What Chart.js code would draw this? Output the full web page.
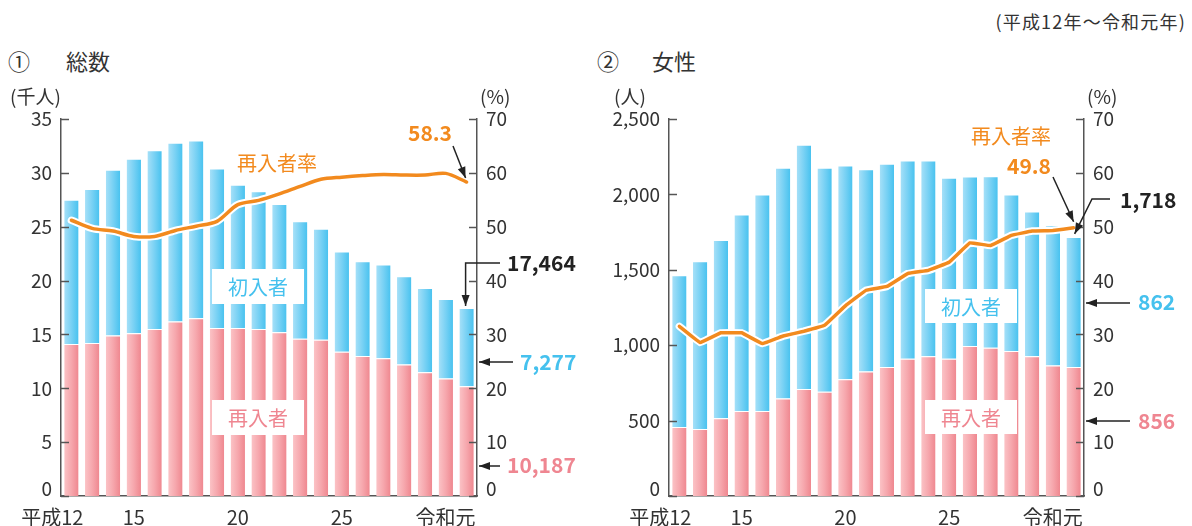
<!DOCTYPE html>
<html>
<head>
<meta charset="utf-8">
<script src="https://cdn.jsdelivr.net/npm/chart.js@4.4.1/dist/chart.umd.min.js"></script>
<style>
  body { margin: 0; background: #fff; width: 1192px; height: 526px; position: relative; overflow: hidden;
         font-family: "Noto Sans CJK JP", "Noto Sans", sans-serif; color: #333; }
  .panel { position: absolute; top: 0; width: 596px; height: 526px; }
  .panel canvas { display: block; }
  .t { position: absolute; white-space: nowrap; line-height: 1; }
</style>
</head>
<body>
<div class="t" style="right:6px;top:12px;font-size:18px;letter-spacing:1.2px">(平成12年～令和元年)</div>
<div class="t" style="left:8px;top:49px;font-size:22px">①</div>
<div class="t" style="left:66px;top:49px;font-size:22px">総数</div>
<div class="t" style="left:597px;top:49px;font-size:22px">②</div>
<div class="t" style="left:652px;top:49px;font-size:22px">女性</div>

<div class="panel" style="left:0"><canvas id="total" width="596" height="526"></canvas></div>
<div class="panel" style="left:596px"><canvas id="female" width="596" height="526"></canvas></div>

<script>
// years 平成12 .. 令和元
var years = ['平成12', '13', '14', '15', '16', '17', '18', '19', '20', '21',
             '22', '23', '24', '25', '26', '27', '28', '29', '30', '令和元'];
var tickIdx = [0, 3, 8, 13, 19];
var tickText = ['平成12', '15', '20', '25', '令和元'];

// ① 総数 (千人)
var totReentry = [14.1, 14.2, 14.9, 15.1, 15.5, 16.2, 16.5, 15.6, 15.6, 15.5,
                  15.2, 14.6, 14.5, 13.4, 13.0, 12.8, 12.2, 11.5, 10.9, 10.187];
var totFirst = [13.4, 14.3, 15.4, 16.2, 16.6, 16.6, 16.5, 14.8, 13.3, 12.8,
                11.9, 10.9, 10.3, 9.3, 8.8, 8.7, 8.2, 7.8, 7.4, 7.277];
var totRate = [51.2, 49.7, 49.2, 48.2, 48.2, 49.3, 50.1, 51.0, 54.1, 54.9,
               56.1, 57.5, 58.8, 59.2, 59.5, 59.7, 59.6, 59.6, 59.9, 58.3];

// ② 女性 (人)
var femReentry = [457, 444, 515, 563, 563, 647, 709, 691, 775, 826,
                  855, 910, 927, 910, 994, 983, 961, 927, 866, 856];
var femFirst = [1007, 1113, 1183, 1303, 1437, 1530, 1621, 1486, 1416, 1340,
                1349, 1314, 1297, 1201, 1124, 1137, 1039, 959, 929, 862];
var femRate = [31.5, 28.5, 30.3, 30.3, 28.3, 29.7, 30.6, 31.7, 35.3, 38.2,
               38.9, 41.3, 41.9, 43.4, 47.0, 46.5, 48.4, 49.2, 49.3, 49.8];

var ORANGE = '#f28a1e', BLUE_TXT = '#45c1ee', PINK_TXT = '#ef8691', AXIS = '#555', DARK = '#222';
var FONT = '"Noto Sans CJK JP", "Noto Sans", sans-serif';
var BAR_PCT = 0.69;

Chart.defaults.font.family = FONT;
Chart.defaults.color = '#333';

var barFill = function (stops) {
    return function (c) {
        var xs = c.chart.scales.x;
        if (!xs || c.dataIndex === undefined) return stops[1];
        var x = xs.getPixelForValue(c.dataIndex);
        var half = xs.width / years.length * BAR_PCT / 2;
        if (!isFinite(x) || !isFinite(half) || half <= 0) return stops[1];
        var g = c.chart.ctx.createLinearGradient(x - half, 0, x + half, 0);
        g.addColorStop(0, stops[0]);
        g.addColorStop(0.5, stops[1]);
        g.addColorStop(1, stops[2]);
        return g;
    };
};

// zero is drawn a little higher by the decor plugin
var noZero = function (v) {
    return v === 0 ? '' : v.toLocaleString('en-US');
};

var arrow = function (ctx, pts) {
    ctx.save();
    ctx.strokeStyle = DARK;
    ctx.fillStyle = DARK;
    ctx.lineWidth = 1.5;
    ctx.beginPath();
    ctx.moveTo(pts[0][0], pts[0][1]);
    for (var i = 1; i < pts.length; i++) ctx.lineTo(pts[i][0], pts[i][1]);
    ctx.stroke();
    var a = pts[pts.length - 2], b = pts[pts.length - 1];
    var ang = Math.atan2(b[1] - a[1], b[0] - a[0]);
    ctx.translate(b[0], b[1]);
    ctx.rotate(ang);
    ctx.beginPath();
    ctx.moveTo(0, 0);
    ctx.lineTo(-11, -4);
    ctx.lineTo(-11, 4);
    ctx.closePath();
    ctx.fill();
    ctx.restore();
};

var decor = {
    id: 'decor',
    afterDraw: function (chart) {
        var p = chart.config.options.plugins.decor;
        var ctx = chart.ctx, area = chart.chartArea;
        var xs = chart.scales.x, ys = chart.scales.y, y1 = chart.scales.y1;
        ctx.save();

        // inward tick marks
        ctx.strokeStyle = AXIS;
        ctx.lineWidth = 1.5;
        ys.ticks.forEach(function (t) {
            var py = Math.round(ys.getPixelForValue(t.value)) + 0.5;
            ctx.beginPath(); ctx.moveTo(area.left, py); ctx.lineTo(area.left + 8, py); ctx.stroke();
        });
        y1.ticks.forEach(function (t) {
            var py = Math.round(y1.getPixelForValue(t.value)) + 0.5;
            ctx.beginPath(); ctx.moveTo(area.right - 8, py); ctx.lineTo(area.right, py); ctx.stroke();
        });

        // zero labels, lifted off the base line
        ctx.fillStyle = '#333';
        ctx.font = '19px ' + FONT;
        ctx.textBaseline = 'middle';
        ctx.textAlign = 'right';
        ctx.fillText('0', area.left - 9, ys.getPixelForValue(0) - 7);
        ctx.textAlign = 'left';
        ctx.fillText('0', area.right + 9, y1.getPixelForValue(0) - 7);

        // x labels
        ctx.font = '20px ' + FONT;
        tickIdx.forEach(function (idx, k) {
            var px = xs.getPixelForValue(idx);
            if (idx === 0) { ctx.textAlign = 'right'; px += 12; }
            else if (idx === years.length - 1) { ctx.textAlign = 'right'; px += 9; }
            else ctx.textAlign = 'center';
            ctx.fillText(tickText[k], px, 517);
        });

        // white label boxes
        p.boxes.forEach(function (b) {
            ctx.fillStyle = '#fff';
            ctx.fillRect(b.x, b.y, b.w, b.h);
            ctx.fillStyle = b.color;
            ctx.font = '20px ' + FONT;
            ctx.textAlign = 'center';
            ctx.fillText(b.text, b.x + b.w / 2, b.y + b.h / 2 + 1);
        });

        // texts
        p.notes.forEach(function (n) {
            ctx.fillStyle = n.color || '#333';
            ctx.font = (n.bold ? 'bold 21px ' : (n.size || 20) + 'px ') + FONT;
            ctx.textAlign = n.align || 'center';
            ctx.fillText(n.text, n.x, n.y);
        });

        // arrows
        p.arrows(xs, ys, y1).forEach(function (pts) { arrow(ctx, pts); });
        ctx.restore();
    }
};

var buildChart = function (id, d) {
    var chartData = {
        type: 'bar',
        data: {
            labels: years,
            datasets: [
                {
                    type: 'line', label: '再入者率', data: d.rate, yAxisID: 'y1', order: 0,
                    borderColor: ORANGE, borderWidth: 3.5, pointRadius: 0, tension: d.tension,
                    borderCapStyle: 'round', borderJoinStyle: 'round'
                },
                {
                    type: 'line', data: d.rate, yAxisID: 'y1', order: 1,
                    borderColor: '#fff', borderWidth: 7.5, pointRadius: 0, tension: d.tension,
                    borderCapStyle: 'round', borderJoinStyle: 'round'
                },
                {
                    label: '再入者', data: d.reentry, order: 2,
                    backgroundColor: barFill(['#fbc3c6', '#f6a7ad', '#ef878f']),
                    borderColor: 'rgba(255,255,255,0.85)',
                    borderWidth: { top: 1, left: 0, right: 0, bottom: 0 },
                    barPercentage: BAR_PCT, categoryPercentage: 1
                },
                {
                    label: '初入者', data: d.first, order: 2,
                    backgroundColor: barFill(['#a6e0f8', '#78d1f4', '#48c2ef']),
                    borderColor: 'rgba(255,255,255,0.85)',
                    borderWidth: { top: 1, left: 0, right: 0, bottom: 0 },
                    barPercentage: BAR_PCT, categoryPercentage: 1
                }
            ]
        },
        options: {
            responsive: false,
            animation: false,
            layout: { padding: { top: 119, left: 0, right: 0, bottom: 0 } },
            plugins: {
                legend: { display: false },
                tooltip: { enabled: false },
                decor: { boxes: d.boxes, notes: d.notes, arrows: d.arrows }
            },
            scales: {
                x: {
                    stacked: true,
                    grid: { display: false, drawTicks: false },
                    border: { display: true, color: AXIS, width: 1.5 },
                    ticks: { display: false },
                    afterFit: function (s) { s.height = 30; }
                },
                y: {
                    stacked: true, min: 0, max: d.max,
                    grid: { display: false, drawTicks: false },
                    border: { display: true, color: AXIS, width: 1.5 },
                    ticks: { stepSize: d.step, padding: 9, color: '#333', font: { size: 19 }, callback: noZero },
                    afterFit: function (s) { s.width = d.leftW; }
                },
                y1: {
                    position: 'right', min: 0, max: 70,
                    grid: { display: false, drawTicks: false },
                    border: { display: true, color: AXIS, width: 1.5 },
                    ticks: { stepSize: 10, padding: 9, color: '#333', font: { size: 19 }, callback: noZero },
                    afterFit: function (s) { s.width = d.rightW; }
                }
            }
        },
        plugins: [decor]
    };
    return new Chart(document.getElementById(id), chartData);
};

var last = years.length - 1;

buildChart('total', {
    reentry: totReentry, first: totFirst, rate: totRate, tension: 0.3,
    max: 35, step: 5, leftW: 61, rightW: 119,
    boxes: [
        { x: 212, y: 269, w: 92, h: 35, text: '初入者', color: BLUE_TXT },
        { x: 212, y: 400, w: 92, h: 35, text: '再入者', color: PINK_TXT }
    ],
    notes: [
        { text: '(千人)', x: 10, y: 97, align: 'left', size: 19 },
        { text: '(%)', x: 480, y: 97, align: 'left', size: 19 },
        { text: '再入者率', x: 277, y: 163, color: ORANGE },
        { text: '58.3', x: 430, y: 133, color: ORANGE, bold: true },
        { text: '17,464', x: 507, y: 263, color: DARK, bold: true, align: 'left' },
        { text: '7,277', x: 520, y: 362, color: BLUE_TXT, bold: true, align: 'left' },
        { text: '10,187', x: 507, y: 465, color: PINK_TXT, bold: true, align: 'left' }
    ],
    arrows: function (xs, ys, y1) {
        var x20 = xs.getPixelForValue(last);
        var top20 = ys.getPixelForValue(totReentry[last] + totFirst[last]);
        return [
            [[453, 146], [x20 - 1, y1.getPixelForValue(totRate[last]) - 4]],
            [[500, 263], [x20 - 1, 263], [x20 - 1, top20 - 2]],
            [[513, 362], [479, 362]],
            [[500, 466], [479, 466]]
        ];
    }
});

buildChart('female', {
    reentry: femReentry, first: femFirst, rate: femRate, tension: 0.05,
    max: 2500, step: 500, leftW: 73, rightW: 108,
    boxes: [
        { x: 329, y: 289, w: 92, h: 34, text: '初入者', color: BLUE_TXT },
        { x: 329, y: 400, w: 92, h: 34, text: '再入者', color: PINK_TXT }
    ],
    notes: [
        { text: '(人)', x: 18, y: 97, align: 'left', size: 19 },
        { text: '(%)', x: 491, y: 97, align: 'left', size: 19 },
        { text: '再入者率', x: 415, y: 136, color: ORANGE },
        { text: '49.8', x: 433, y: 166, color: ORANGE, bold: true },
        { text: '1,718', x: 524, y: 200, color: DARK, bold: true, align: 'left' },
        { text: '862', x: 542, y: 302, color: BLUE_TXT, bold: true, align: 'left' },
        { text: '856', x: 542, y: 421, color: PINK_TXT, bold: true, align: 'left' }
    ],
    arrows: function (xs, ys, y1) {
        var x20 = xs.getPixelForValue(last);
        var top20 = ys.getPixelForValue(femReentry[last] + femFirst[last]);
        return [
            [[457, 177], [x20, y1.getPixelForValue(femRate[last]) - 6]],
            [[514, 199], [496, 199], [x20 + 1, top20 - 3]],
            [[534, 303], [490, 303]],
            [[534, 421], [490, 421]]
        ];
    }
});
</script>
</body>
</html>
